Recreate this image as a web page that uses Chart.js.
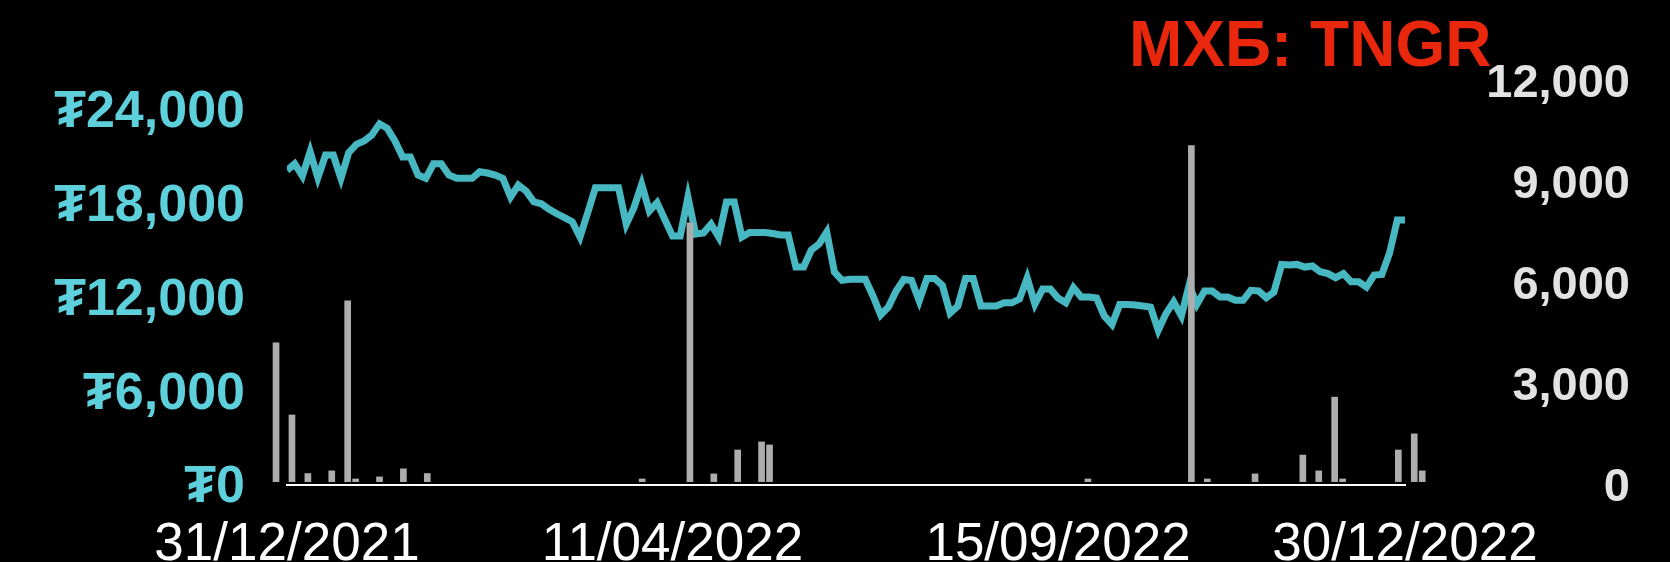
<!DOCTYPE html>
<html>
<head>
<meta charset="utf-8">
<title>МХБ: TNGR</title>
<script src="https://cdn.jsdelivr.net/npm/chart.js@4"></script>
<style>
    html, body {margin: 0; padding: 0; background: #000;}
    #tngr_chart {display: block;}
</style>
</head>
<body>
<canvas id="tngr_chart" width="1670" height="562"></canvas>
<script>
// Data
    const chartTitle = 'МХБ: TNGR';

    // closing price per trading day (₮)
    const closePrice = [
        20140, 20560, 19780, 21330, 19670, 21120, 21120, 19630, 21270, 21800
        ,22020, 22400, 23120, 22830, 22020, 20990, 20990, 19840, 19630, 20560
        ,20560, 19840, 19630, 19630, 19630, 20050, 19970, 19840, 19630, 18430
        ,19200, 18820, 18130, 18000, 17650, 17360, 17110, 16850, 15870, 17430
        ,19030, 19030, 19030, 19030, 16690, 17750, 19250, 17540, 18070, 17000
        ,15940, 15940, 18430, 16060, 16130, 16700, 15870, 18110, 18110, 15870
        ,16160, 16160, 16160, 16100, 16000, 16000, 13950, 13950, 15040, 15420
        ,16190, 13630, 13100, 13170, 13170, 13170, 12100, 10880, 11390, 12420
        ,13150, 13090, 11780, 13220, 13220, 12770, 11010, 11460, 13220, 13220
        ,11460, 11460, 11460, 11660, 11660, 11900, 13250, 11580, 12540, 12540
        ,11970, 11670, 12640, 12030, 12030, 11970, 10820, 10280, 11560, 11560
        ,11520, 11460, 11390, 9900, 10970, 11730, 10820, 12800, 11560, 12420
        ,12420, 12030, 12030, 11820, 11820, 12460, 12420, 11990, 12350, 14120
        ,14080, 14120, 13950, 14020, 13650, 13530, 13270, 13530, 13010, 13010
        ,12670, 13440, 13480, 14850, 16960, 16960
    ];

    // traded volume: slot on the volume grid and amount
    const volumeSlot  = [0, 2, 4, 7, 9, 10, 13, 16, 19, 46, 52, 55, 58, 61, 62, 102, 115, 117, 123, 129, 131, 133, 134, 141, 143, 144];
    const volumeValue = [4220, 2080, 340, 420, 5470, 180, 240, 480, 340, 180, 7790, 330, 1040, 1280, 1190, 180, 10080, 180, 330, 890, 420, 2610, 180, 1040, 1520, 420];

    // ticks
    const dateTickIndex  = [0, 50, 100, 145];
    const dateTickLabels = ['31/12/2021', '11/04/2022', '15/09/2022', '30/12/2022'];
    const priceTicks     = [0, 6000, 12000, 18000, 24000];
    const volumeTicks    = [0, 3000, 6000, 9000, 12000];

// Axis ranges and layout
    const priceMax  = 25860;
    const volumeMax = 12000;
    const dayMax    = 145;
    const slotMin   = 1;
    const slotMax   = 141.46;

    const chartLeft   = 287;
    const chartRight  = 1405;
    const labelRight  = 1630;
    const chartTop    = 81;
    const chartBottom = 485;
    const fontFamily  = '"Liberation Sans", Arial, Helvetica, sans-serif';

// Title drawn over the top right corner
    const cornerTitle = {
        id: 'corner_title'
        ,afterDraw: (chart) =>
        {
            const ctx = chart.ctx;
            ctx.save();
            ctx.font = 'bold 64px ' + fontFamily;
            ctx.fillStyle = '#e8270c';
            ctx.textAlign = 'left';
            ctx.textBaseline = 'alphabetic';
            ctx.fillText(chartTitle, 1129, 66);
            ctx.restore();
        }
    };

// Chart
    const createChart = () =>
    {
        const ctx = document.getElementById('tngr_chart');

        new Chart(ctx,
        {
            data: {
                datasets:
                [
                    {
                        type: 'bar'
                        ,label: 'Volume'
                        ,data: volumeSlot.map((s, i) => ({x: s, y: volumeValue[i]}))
                        ,xAxisID: 'xv'
                        ,yAxisID: 'yv'
                        ,backgroundColor: '#adadad'
                        ,barThickness: 6
                        ,base: 100
                        ,clip: false
                    }
                    ,{
                        type: 'line'
                        ,label: 'Price'
                        ,data: closePrice.map((v, i) => ({x: i, y: v}))
                        ,xAxisID: 'x'
                        ,yAxisID: 'y'
                        ,borderColor: '#47b8c1'
                        ,borderWidth: 7
                        ,pointRadius: 0
                        ,tension: 0
                    }
                ]
            }
            ,options:
            {
                responsive: false
                ,animation: false
                ,layout: {padding: {top: chartTop, left: 0, right: 1670 - labelRight, bottom: 0}}
                ,plugins: {legend: {display: false}, tooltip: {enabled: false}}
                ,scales:
                {
                    x: {
                        type: 'linear'
                        ,position: 'bottom'
                        ,min: 0
                        ,max: dayMax
                        ,grid: {display: false, drawTicks: false}
                        ,border: {color: '#ffffff', width: 2}
                        ,afterBuildTicks: (scale) => { scale.ticks = dateTickIndex.map(v => ({value: v})); }
                        ,afterFit: (scale) => { scale.height = 562 - chartBottom; }
                        ,ticks: {
                            autoSkip: false
                            ,maxRotation: 0
                            ,padding: 34
                            ,color: '#ffffff'
                            ,font: {family: fontFamily, size: 53, lineHeight: 1}
                            ,callback: (value, index) => dateTickLabels[index]
                        }
                    }
                    ,xv: {
                        type: 'linear'
                        ,display: false
                        ,offset: false
                        ,grid: {offset: false}
                        ,min: slotMin
                        ,max: slotMax
                    }
                    ,y: {
                        type: 'linear'
                        ,position: 'left'
                        ,min: 0
                        ,max: priceMax
                        ,grid: {display: false, drawTicks: false}
                        ,border: {display: false}
                        ,afterBuildTicks: (scale) => { scale.ticks = priceTicks.map(v => ({value: v})); }
                        ,afterFit: (scale) => { scale.width = chartLeft; scale.paddingTop = 0; scale.paddingBottom = 0; }
                        ,ticks: {
                            padding: 42
                            ,labelOffset: 3
                            ,color: '#5dd0dc'
                            ,font: {family: fontFamily, size: 52, weight: 'bold', lineHeight: 1}
                            ,callback: (value) => '₮' + value.toLocaleString('en-US')
                        }
                    }
                    ,yv: {
                        type: 'linear'
                        ,position: 'right'
                        ,min: 0
                        ,max: volumeMax
                        ,grid: {display: false, drawTicks: false}
                        ,border: {display: false}
                        ,afterBuildTicks: (scale) => { scale.ticks = volumeTicks.map(v => ({value: v})); }
                        ,afterFit: (scale) => { scale.width = labelRight - chartRight; scale.paddingTop = 0; scale.paddingBottom = 0; }
                        ,ticks: {
                            padding: 10
                            ,crossAlign: 'far'
                            ,labelOffset: 3
                            ,color: '#e2e2e2'
                            ,font: {family: fontFamily, size: 47, weight: 'bold', lineHeight: 1}
                            ,callback: (value) => value.toLocaleString('en-US')
                        }
                    }
                }
            }
            ,plugins: [cornerTitle]
        });
    };
    createChart();
</script>
</body>
</html>
